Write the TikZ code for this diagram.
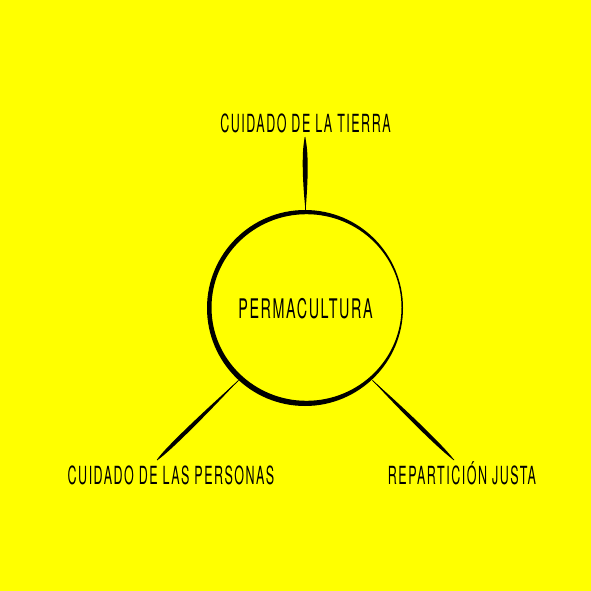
\documentclass[tikz,border=0pt]{standalone}
\usepackage{fontspec}
\setmainfont{TeX Gyre Heros}[FakeStretch=0.50, LetterSpace=6]
\usetikzlibrary{calc}
\definecolor{bg}{HTML}{FFFF00}
\tikzset{
  lbl/.style={anchor=base, inner sep=0pt, font=\fontsize{25}{27}\selectfont},
  thinline/.style={line width=0.7pt},
}
% spindle: start, end, t1, t2, half offset of control points
\newcommand\spindle[5]{%
  \fill (#1) .. controls ($(#1)!#3!(#2)!#5!90:(#2)$) and ($(#1)!#4!(#2)!#5!90:(#2)$) .. (#2)
        .. controls ($(#1)!#4!(#2)!#5!-90:(#2)$) and ($(#1)!#3!(#2)!#5!-90:(#2)$) .. (#1) -- cycle;
  \draw[thinline] (#1) -- (#2);
}
\begin{document}
\begin{tikzpicture}[x=1pt,y=-1pt]
\fill[bg] (0,0) rectangle (591,591);
\useasboundingbox (0,0) rectangle (591,591);
\node[circle, minimum size=196pt, inner sep=0pt, font=\fontsize{27}{29}\selectfont\addfontfeatures{FakeStretch=0.53}] (perma) at (305.5,308.5) {PERMACULTURA};
\fill[even odd rule] (305,308) circle[radius=98pt] (306.5,307.5) ellipse[x radius=95pt, y radius=93.3pt];
\node[lbl] (tierra) at (305.5,132) {CUIDADO DE LA TIERRA};
\node[lbl] (personas) at (171,484) {CUIDADO DE LAS PERSONAS};
\node[lbl] (justa) at (462,484) {REPARTICIÓN JUSTA};
\coordinate (tT) at (305,137);
\coordinate (tP) at (157,460);
\coordinate (tJ) at (454,460);
\spindle{perma.90}{tT}{0.45}{0.85}{3.3pt}
\spindle{perma.227}{tP}{0.5}{0.95}{2.7pt}
\spindle{perma.313}{tJ}{0.4}{0.9}{2.7pt}
\end{tikzpicture}
\end{document}
